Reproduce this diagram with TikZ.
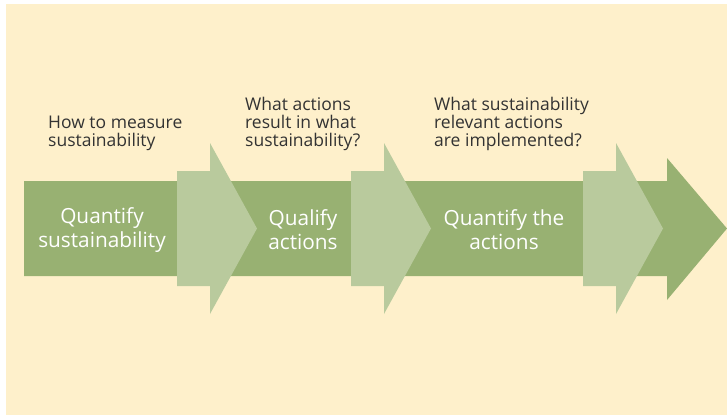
\documentclass[tikz,border=0pt]{standalone}
\usepackage{fontspec}
\setmainfont{Open Sans}
\definecolor{bgcream}{HTML}{FEF0CB}
\definecolor{bardark}{HTML}{98B172}
\definecolor{barlight}{HTML}{B9CA9D}
\definecolor{txtgray}{HTML}{333333}

\begin{document}
\begin{tikzpicture}[x=1pt, y=-1pt,
	stage/.style={text=white, align=center, inner sep=0pt, font=\fontsize{20.8}{24}\selectfont},
	question/.style={text=txtgray, align=left, anchor=south west, inner sep=0pt, font=\fontsize{17.5}{18}\selectfont}]
	\useasboundingbox (0,0) rectangle (727,415);
	\fill[bgcream] (6,4) rectangle (727,415);
	% long arrow
	\fill[bardark] (24,181) -- (667,181) -- (667,158) -- (727,228.5) -- (667,300) -- (667,276) -- (24,276) -- cycle;
	% lighter chevrons on top
	\foreach \x in {177,351,583}
		\fill[barlight] (\x,171) -- (\x+33,171) -- (\x+33,143) -- (\x+80,228.5) -- (\x+33,314) -- (\x+33,286) -- (\x,286) -- cycle;
	% stages
	\node[stage] (quantsus) at (102,230) {Quantify\\sustainability};
	\node[stage] (qualact) at (303,230) {Qualify\\actions};
	\node[stage] (quantact) at (504,230) {Quantify the\\actions};
	% questions
	\node[question] (howq) at (48,151) {How to measure\\sustainability};
	\node[question] (whatq) at (245,151) {What actions\\result in what\\sustainability?};
	\node[question] (implq) at (434,151) {What sustainability\\relevant actions\\are implemented?};
\end{tikzpicture}
\end{document}
